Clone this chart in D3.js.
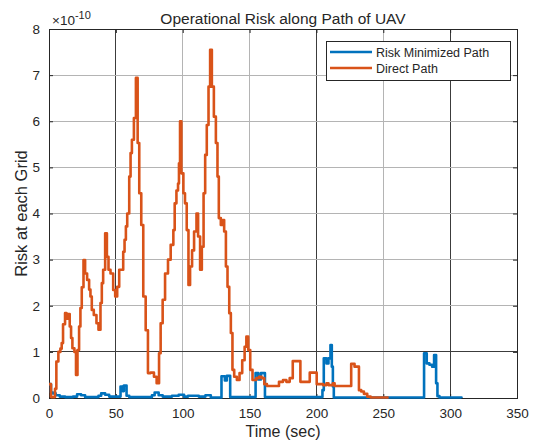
<!DOCTYPE html>
<meta charset="utf-8">
<script src="https://cdn.jsdelivr.net/npm/d3@7"></script>
<style>
    body { margin: 0; background: #fff; }
    text { font-family: "Liberation Sans", Arial, sans-serif; fill: #262626; }
</style>
<body>
<svg class="chart"></svg>
<script>
    ///////////////////////
    // Data, risk in units of 1e-10
    var directTime = [0, 1.5, 4.5, 5.5, 7, 8.5, 9.5, 10.5, 12, 13, 14, 15.5, 16.5, 17.5, 19, 20.2, 21.3, 22.5, 23.5, 24.5,
        25.8, 27, 28.5, 30, 31, 32, 33.5, 35.5, 37, 38.5, 39.5, 40.5, 42, 43.3, 44.5, 46, 48, 49.5, 51, 52.5,
        55.5, 56.5, 57.5, 58.5, 60, 61, 62, 63.5, 65, 66.3, 67.5, 69, 70.5, 72.3, 74, 76, 78.5, 80.5, 82.3, 83.5,
        85, 86.8, 89, 91, 93, 94, 95.3, 96.5, 97.2, 98, 99, 100.5, 101.7, 103, 104.3, 105.5, 107, 108.5, 110.3, 111.5,
        113, 114.3, 115.6, 116.8, 118, 119.3, 120.5, 121.8, 123.3, 124.8, 126, 127, 128.5, 130, 131, 132.3, 133.5, 134.8, 136, 137.2,
        138.5, 140.5, 142.5, 144.5, 146.3, 147.6, 149, 150.5, 152.2, 155, 157, 159, 161, 163, 172, 175, 177.5, 180, 182.3, 188,
        195, 200.2, 205, 207.5, 209, 212.3, 213.6, 226, 228.5, 231.8, 233.5, 235.5, 238, 240.5, 254];
    var directRisk = [0.3, 0.02, 0.2, 0.79, 1.0, 1.07, 1.19, 1.6, 1.84, 1.72, 1.82, 1.55, 1.3, 1.08, 1.0, 0.5, 1.04, 1.55, 1.95, 2.4,
        2.99, 2.7, 2.56, 2.35, 2.2, 1.91, 1.8, 1.62, 1.48, 2.06, 2.49, 2.78, 3.57, 3.06, 2.78, 2.7, 2.34, 2.2, 2.41, 2.78,
        3.17, 3.43, 3.72, 4.0, 4.8, 5.31, 5.6, 6.07, 6.94, 5.53, 4.44, 3.75, 2.2, 1.47, 0.54, 0.55, 0.46, 0.32, 0.97, 1.62,
        2.13, 2.7, 3.0, 3.32, 3.64, 4.22, 4.5, 4.65, 5.09, 6.0, 4.87, 4.44, 4.22, 3.64, 2.45, 2.85, 3.2, 3.61, 4.0, 3.5,
        2.78, 3.28, 4.44, 5.27, 5.92, 6.75, 7.55, 6.75, 6.1, 5.53, 4.8, 3.9, 3.75, 3.86, 3.61, 2.85, 2.41, 1.84, 1.41, 0.61,
        0.46, 0.39, 0.54, 0.82, 1.11, 1.33, 1.04, 0.61, 0.39, 0.43, 0.46, 0.43, 0.3, 0.26, 0.35, 0.39, 0.35, 0.43, 0.8, 0.35,
        0.55, 0.3, 0.28, 0.32, 0.28, 0.32, 0.26, 0.74, 0.68, 0.17, 0.14, 0.09, 0.03, 0.01, 0.01];

    var minTime = [0, 1.5, 3, 5, 8, 12, 18, 21, 24, 27, 37, 39, 42, 45, 53.5, 55, 56, 58, 60, 77,
        79, 82, 85, 92, 97, 101, 104, 112, 117, 121, 129, 131.5, 133, 135.5, 154.5, 156.5, 158.5, 161.5, 204.5, 205.5,
        207.5, 209, 210.5, 211.5, 212.3, 213, 280.5, 282.5, 284.5, 286.5, 288, 289.5, 290.5, 292, 308.5];
    var minRisk = [0.3, 0.12, 0.1, 0.06, 0.03, 0.02, 0.03, 0.08, 0.06, 0.02, 0.05, 0.1, 0.07, 0.03, 0.25, 0.15, 0.27, 0.05, 0.02, 0.06,
        0.12, 0.06, 0.03, 0.05, 0.07, 0.03, 0.05, 0.03, 0.06, 0.01, 0.47, 0.38, 0.48, 0.02, 0.54, 0.4, 0.54, 0.02, 0.17, 0.86,
        0.75, 0.86, 1.15, 0.68, 0.25, 0.01, 0.97, 0.75, 0.72, 0.68, 0.93, 0.32, 0.04, 0.01, 0];

    var xTicks = [0, 50, 100, 150, 200, 250, 300, 350];
    var yTicks = [0, 1, 2, 3, 4, 5, 6, 7, 8];
    var seriesNames = ["Risk Minimized Path", "Direct Path"];
    var seriesColors = ["#0072BD", "#D95319"];

    ///////////////////////
    // Chart Size Setup
    var margin = { top: 29, right: 18, bottom: 43, left: 49 };
    var width = 535 - margin.left - margin.right;
    var height = 441 - margin.top - margin.bottom;

    var svg = d3.select(".chart")
        .attr("width", 535)
        .attr("height", 441);

    var chart = svg.append("g")
        .attr("transform", "translate(" + margin.left + "," + margin.top + ")");

    ///////////////////////
    // Scales
    var x = d3.scaleLinear().domain([0, 350]).range([0, width]);
    var y = d3.scaleLinear().domain([0, 8]).range([height, 0]);

    ///////////////////////
    // Grid (the downsampled picture shows some lines darker than others)
    var darkX = [50, 200, 300];
    var darkY = [1];

    chart.append("g").selectAll("line")
        .data(xTicks.slice(1, -1))
        .enter().append("line")
        .attr("x1", function(d) { return x(d); })
        .attr("x2", function(d) { return x(d); })
        .attr("y1", 0)
        .attr("y2", height)
        .attr("stroke", function(d) { return darkX.indexOf(d) >= 0 ? "#3c3c3c" : "#b4b4b4"; })
        .attr("stroke-width", 1)
        .attr("shape-rendering", "crispEdges");

    chart.append("g").selectAll("line")
        .data(yTicks.slice(1, -1))
        .enter().append("line")
        .attr("x1", 0)
        .attr("x2", width)
        .attr("y1", function(d) { return y(d); })
        .attr("y2", function(d) { return y(d); })
        .attr("stroke", function(d) { return darkY.indexOf(d) >= 0 ? "#3c3c3c" : "#b4b4b4"; })
        .attr("stroke-width", 1)
        .attr("shape-rendering", "crispEdges");

    ///////////////////////
    // Axes (inward ticks, box on)
    var xAxis = d3.axisBottom(x).tickValues(xTicks).tickSize(-4).tickPadding(10);
    var yAxis = d3.axisLeft(y).tickValues(yTicks).tickSize(-4).tickPadding(9);

    chart.append("g")
        .attr("class", "axis")
        .attr("transform", "translate(0," + height + ")")
        .call(xAxis);

    chart.append("g")
        .attr("class", "axis")
        .call(yAxis);

    chart.append("g")
        .attr("class", "axis")
        .call(d3.axisTop(x).tickValues(xTicks).tickSize(-4).tickFormat(""));

    chart.append("g")
        .attr("class", "axis")
        .attr("transform", "translate(" + width + ",0)")
        .call(d3.axisRight(y).tickValues(yTicks).tickSize(-4).tickFormat(""));

    chart.selectAll(".axis path").attr("stroke", "#262626").attr("shape-rendering", "crispEdges");
    chart.selectAll(".axis line").attr("stroke", "#262626");
    chart.selectAll(".axis text")
        .style("font-size", "13.5px")
        .attr("fill", "#262626");

    ///////////////////////
    // Lines
    var line = d3.line()
        .x(function(d) { return x(d[0]); })
        .y(function(d) { return y(d[1]); })
        .curve(d3.curveStepAfter);

    var series = [
        d3.zip(minTime, minRisk),
        d3.zip(directTime, directRisk)
    ];

    series.forEach(function(s, i) {
        chart.append("path")
            .datum(s)
            .attr("fill", "none")
            .attr("stroke", seriesColors[i])
            .attr("stroke-width", 2.6)
            .attr("stroke-linejoin", "round")
            .attr("d", line);
    });

    ///////////////////////
    // Exponent label
    var expo = chart.append("text")
        .attr("x", 3)
        .attr("y", -4)
        .style("font-size", "13.5px");
    expo.append("tspan").text("\u00d710");
    expo.append("tspan")
        .attr("dy", -6)
        .style("font-size", "11px")
        .text("-10");

    ///////////////////////
    // Titles
    svg.append("text")
        .text("Operational Risk along Path of UAV")
        .attr("text-anchor", "middle")
        .attr("x", margin.left + width / 2)
        .attr("y", 24)
        .style("font-size", "15.5px");

    svg.append("text")
        .text("Time (sec)")
        .attr("text-anchor", "middle")
        .attr("x", margin.left + width / 2)
        .attr("y", 437)
        .style("font-size", "16px");

    svg.append("text")
        .text("Risk at each Grid")
        .attr("text-anchor", "middle")
        .attr("transform", "translate(27," + (margin.top + height / 2) + ") rotate(-90)")
        .style("font-size", "16.5px");

    ///////////////////////
    // Legend
    var legend = svg.append("g")
        .attr("transform", "translate(326,41)");

    legend.append("rect")
        .attr("width", 184)
        .attr("height", 39)
        .attr("fill", "#fff")
        .attr("stroke", "#262626")
        .attr("stroke-width", 1)
        .attr("shape-rendering", "crispEdges");

    seriesNames.forEach(function(name, i) {
        var row = legend.append("g")
            .attr("transform", "translate(0," + (11 + i * 16) + ")");
        row.append("line")
            .attr("x1", 4)
            .attr("x2", 46)
            .attr("stroke", seriesColors[i])
            .attr("stroke-width", 2.6);
        row.append("text")
            .text(name)
            .attr("x", 50)
            .attr("y", 4.5)
            .style("font-size", "12.5px");
    });
</script>
</body>
